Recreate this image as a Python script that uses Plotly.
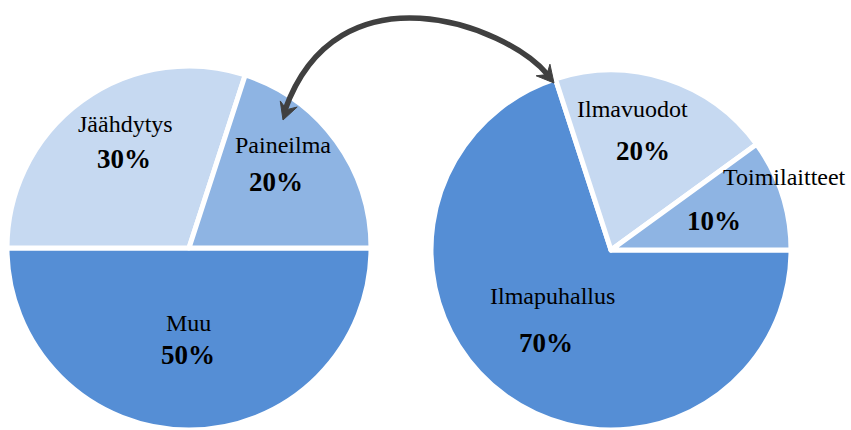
import plotly.graph_objects as go
import math

# ---- data ----
left_labels = ["Muu", "Jäähdytys", "Paineilma"]
left_values = [50, 30, 20]
right_labels = ["Ilmapuhallus", "Ilmavuodot", "Toimilaitteet"]
right_values = [70, 20, 10]
left_colors = ["#558ED5", "#C6D9F1", "#8EB4E3"]
right_colors = ["#558ED5", "#C6D9F1", "#8EB4E3"]

W, H = 851, 430

def px(x):
    return x / W

def py(y):
    return 1 - y / H

fig = go.Figure()

fig.add_trace(go.Pie(
    labels=left_labels, values=left_values, sort=False,
    direction="clockwise", rotation=90,
    marker=dict(colors=left_colors, line=dict(color="white", width=5)),
    textinfo="none", hoverinfo="label+percent", showlegend=False,
    domain=dict(x=[px(7), px(371)], y=[0, 364 / H]),
))
fig.add_trace(go.Pie(
    labels=right_labels, values=right_values, sort=False,
    direction="clockwise", rotation=90,
    marker=dict(colors=right_colors, line=dict(color="white", width=5)),
    textinfo="none", hoverinfo="label+percent", showlegend=False,
    domain=dict(x=[px(431), px(791)], y=[0, 360 / H]),
))

# label positions (pixels, top-left origin)
name_pos_left = [(188, 323), (125, 124), (283, 145)]
pct_pos_left = [(188, 355), (124, 159), (276, 182)]
name_pos_right = [(552, 296), (632, 109), (784, 177)]
pct_pos_right = [(546, 343), (643, 151), (714, 221)]

serif = "Liberation Serif"
annotations = []
for labels, values, npos, ppos in [
    (left_labels, left_values, name_pos_left, pct_pos_left),
    (right_labels, right_values, name_pos_right, pct_pos_right),
]:
    for lab, val, (nx, ny), (qx, qy) in zip(labels, values, npos, ppos):
        annotations.append(dict(
            x=px(nx), y=py(ny), xref="paper", yref="paper",
            text=lab, showarrow=False, xanchor="center", yanchor="middle",
            font=dict(family=serif, size=24, color="black", weight=400),
        ))
        annotations.append(dict(
            x=px(qx), y=py(qy), xref="paper", yref="paper",
            text=f"{val}%", showarrow=False, xanchor="center", yanchor="middle",
            font=dict(family=serif, size=27, color="black", weight=700),
        ))

# curved arrow (decoration)
P0 = (285, 110)
P1 = (337.5, -37)
P2 = (505, 24)
P3 = (548, 75)

def pt(p):
    return f"{px(p[0]):.5f},{py(p[1]):.5f}"

curve = f"M {pt(P0)} C {pt(P1)} {pt(P2)} {pt(P3)}"
arrow_col = "#404040"
shapes = [dict(type="path", path=curve, xref="paper", yref="paper",
               line=dict(color=arrow_col, width=5.5), fillcolor="rgba(0,0,0,0)")]

def head(tip, d, length=17, half=9, notch=11):
    n = math.hypot(*d)
    dx, dy = d[0] / n, d[1] / n
    nx_, ny_ = -dy, dx
    bx, by = tip[0] - length * dx, tip[1] - length * dy
    w1 = (bx + half * nx_, by + half * ny_)
    w2 = (bx - half * nx_, by - half * ny_)
    nt = (tip[0] - notch * dx, tip[1] - notch * dy)
    return f"M {pt(tip)} L {pt(w1)} L {pt(nt)} L {pt(w2)} Z"

shapes.append(dict(type="path", path=head((283, 120), (-10, 28)), xref="paper", yref="paper",
                   line=dict(color=arrow_col, width=1), fillcolor=arrow_col))
shapes.append(dict(type="path", path=head((554, 83), (16, 19)), xref="paper", yref="paper",
                   line=dict(color=arrow_col, width=1), fillcolor=arrow_col))

fig.update_layout(
    width=W, height=H, margin=dict(l=0, r=0, t=0, b=0),
    paper_bgcolor="white", plot_bgcolor="white",
    font=dict(family=serif),
    annotations=annotations, shapes=shapes,
)

fig.write_html("out.html")
